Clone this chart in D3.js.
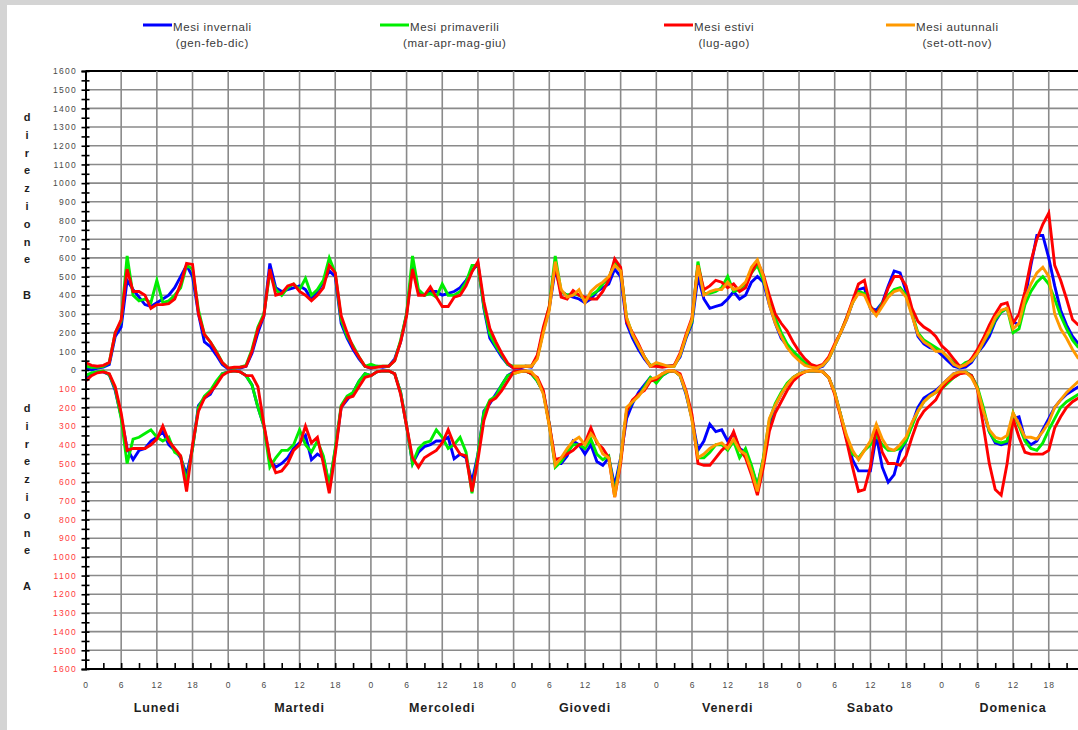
<!DOCTYPE html>
<html>
<head>
<meta charset="utf-8">
<script src="https://cdn.jsdelivr.net/npm/d3@7"></script>
<style>
body{margin:0;background:#d4d4d4;}
svg{display:block;font-family:"Liberation Sans",Arial,sans-serif;}
</style>
</head>
<body>
<svg id="chart" width="1078" height="730"></svg>
<script>
// giorni della settimana (asse x)
var days = ["Lunedi","Martedi","Mercoledi","Giovedi","Venerdi","Sabato","Domenica"]
var hourTicks = [0,6,12,18]

var seriesNames = ["Mesi invernali","Mesi primaverili","Mesi estivi","Mesi autunnali"]
var seriesMonths = ["(gen-feb-dic)","(mar-apr-mag-giu)","(lug-ago)","(set-ott-nov)"]

// direzione B, un valore per ora (Lun 0 -> Dom 23)
var winterB = [
 10,0,10,15,30,180,230,480,430,390,350,340,360,380,400,440,500,560,500,300,150,125,80,30,
 5,10,10,20,90,200,290,570,440,420,430,440,450,430,380,420,470,530,500,250,170,110,60,20,
 10,20,15,20,60,150,300,560,420,400,420,420,400,410,420,440,480,530,570,330,170,120,70,30,
 10,10,20,15,70,210,330,540,420,400,390,380,360,380,420,440,460,540,500,250,170,110,60,20,
 30,20,20,25,70,170,250,500,380,330,340,350,380,420,380,400,470,500,470,350,250,170,130,100,
 60,30,20,10,20,60,130,200,270,360,430,440,330,320,360,450,530,520,420,300,180,140,120,110,
 80,50,20,10,15,40,90,130,180,260,310,330,260,240,380,560,720,720,600,450,320,240,180,140]
var springB = [
 20,15,15,20,40,200,260,610,400,370,380,360,480,360,370,400,440,560,540,320,190,150,100,40,
 10,10,15,25,110,230,300,520,430,400,440,460,430,490,400,430,480,600,520,270,180,130,70,20,
 30,20,20,20,50,160,300,610,430,400,410,390,460,400,400,420,470,560,560,340,190,130,80,30,
 20,20,20,20,70,210,340,610,420,400,410,400,380,400,420,460,490,580,540,280,190,130,70,25,
 30,20,20,20,80,180,260,580,410,410,420,440,500,420,430,460,520,560,480,380,280,200,140,100,
 70,40,25,15,25,60,130,200,280,360,420,410,340,300,360,400,430,440,400,300,200,160,140,120,
 100,70,40,15,40,50,90,150,200,270,310,330,200,220,350,420,470,500,460,380,290,220,160,120]
var summerB = [
 40,25,20,25,40,200,270,540,420,420,400,330,350,350,355,380,460,570,565,300,190,150,95,40,
 10,15,15,20,100,220,290,540,400,410,450,460,420,400,370,400,440,560,520,290,200,120,70,20,
 10,15,20,20,50,150,290,540,400,400,445,390,340,340,390,400,450,525,580,365,223,152,90,37,
 10,15,20,20,80,230,340,560,390,380,425,400,390,380,380,420,480,595,550,258,200,140,70,20,
 20,15,20,25,90,190,280,560,430,450,480,470,440,460,420,440,520,580,510,400,300,250,210,150,
 100,60,30,20,30,70,140,200,280,370,460,480,340,300,350,440,500,500,450,330,260,230,210,180,
 130,100,60,20,25,60,110,170,240,300,350,360,250,300,420,580,700,780,840,560,480,380,270,240]
var autumnB = [
 null,null,null,null,null,null,null,null,null,null,null,null,null,null,null,null,null,null,null,null,null,null,null,null,
 null,null,null,null,null,null,null,null,null,null,null,null,null,null,null,null,null,null,null,null,null,null,null,null,
 null,null,null,null,null,null,null,null,null,null,null,null,null,null,null,null,null,null,null,null,null,null,null,null,
 20,20,20,20,60,200,320,580,430,390,400,430,360,420,450,470,500,560,530,280,190,130,70,20,
 40,30,20,20,80,180,270,560,400,420,430,430,470,430,440,470,550,590,500,350,250,180,120,80,
 50,25,15,10,25,60,130,200,270,360,410,400,330,290,340,390,420,430,390,290,190,150,130,100,
 100,70,30,15,30,50,90,150,210,280,320,330,220,250,380,460,520,550,500,300,220,170,110,60]

// direzione A (valori disegnati sotto lo zero)
var winterA = [
 40,20,10,10,25,110,250,420,480,430,420,380,360,330,400,430,470,560,420,190,150,130,70,20,
 10,5,10,30,80,200,300,480,520,500,470,420,390,350,480,450,470,620,430,200,160,120,60,20,
 30,10,5,5,20,120,300,500,440,410,400,380,380,360,475,450,470,600,450,220,180,130,80,30,
 10,5,5,20,60,120,290,500,500,460,380,400,450,400,490,510,470,620,470,260,180,120,80,40,
 60,30,10,5,30,130,260,430,380,290,330,320,380,340,420,440,520,620,480,290,190,130,80,40,
 20,10,5,5,10,40,120,240,370,480,540,540,540,350,520,600,560,440,380,290,200,150,130,110,
 80,50,20,10,10,30,100,220,330,390,400,390,260,250,370,400,380,320,260,200,160,130,110,90]
var springA = [
 30,15,10,5,25,100,260,500,370,360,340,320,360,380,360,440,460,600,420,200,140,110,60,20,
 10,5,10,30,80,200,300,520,470,430,430,400,320,400,440,380,460,620,420,190,140,120,60,20,
 30,10,5,5,20,120,300,500,420,390,380,320,360,420,400,360,440,660,450,230,160,140,80,30,
 20,10,5,20,60,120,290,520,490,440,400,400,420,370,450,480,460,660,480,220,170,140,90,40,
 70,30,10,5,30,120,260,470,470,440,400,400,430,380,470,420,510,620,470,270,180,120,70,40,
 20,10,5,5,10,40,120,240,360,450,470,430,400,350,400,430,430,420,380,300,220,170,140,120,
 100,70,40,20,10,30,90,200,330,380,390,380,230,300,380,420,430,390,320,260,200,170,150,130]
var summerA = [
 60,30,15,10,20,90,230,430,420,420,420,400,370,300,380,420,460,650,400,220,150,120,80,30,
 10,5,10,30,30,90,290,470,550,540,500,430,400,300,390,360,500,660,450,200,150,140,90,40,
 30,10,5,5,20,130,300,470,520,470,450,430,390,320,400,450,460,650,480,270,170,150,110,60,
 10,5,5,20,40,110,290,480,470,450,430,400,390,310,390,420,470,680,500,220,160,130,110,60,
 50,20,5,5,20,110,240,500,510,510,470,430,400,330,420,470,560,670,520,330,230,170,110,60,
 30,10,3,5,10,40,130,250,380,520,650,640,520,300,440,500,500,510,460,360,270,220,190,160,
 100,60,40,20,15,30,100,300,500,640,670,500,260,360,440,450,450,450,430,310,250,200,170,150]
var autumnA = [
 null,null,null,null,null,null,null,null,null,null,null,null,null,null,null,null,null,null,null,null,null,null,null,null,
 null,null,null,null,null,null,null,null,null,null,null,null,null,null,null,null,null,null,null,null,null,null,null,null,
 null,null,null,null,null,null,null,null,null,null,null,null,null,null,null,null,null,null,null,null,null,null,null,null,
 20,10,5,10,50,130,300,510,470,420,380,360,400,340,380,450,470,680,480,200,170,140,100,50,
 40,20,5,5,30,120,270,470,450,420,400,390,420,370,430,450,540,650,480,260,190,130,80,40,
 20,10,3,5,10,40,120,240,350,430,480,430,380,290,370,420,430,400,360,280,220,170,140,120,
 80,50,20,10,10,40,100,220,320,360,370,350,230,290,360,360,370,330,280,200,160,120,90,60]

var colors = ["#0000ff","#00ee00","#ff0000","#ff9900"]

var margins = {left:85.5, top:71, bottom:669}
var hourWidth = 5.946

var svg = d3.select("#chart")

// sfondo
svg.append("rect").attr("width",1078).attr("height",730).attr("fill","#d4d4d4")
svg.append("rect").attr("x",7).attr("y",5).attr("width",1071).attr("height",725).attr("fill","#ffffff")

var xScale = d3.scaleLinear()
    .domain([0,168])
    .range([margins.left, margins.left+168*hourWidth])
var yScale = d3.scaleLinear()
    .domain([-1600,1600])
    .range([margins.bottom, margins.top])

// griglia
var grid = svg.append("g").attr("class","grid")
grid.selectAll("line.h")
    .data(d3.range(-1600,1601,100))
    .enter().append("line")
    .attr("x1",margins.left).attr("x2",1078)
    .attr("y1",function(d){return yScale(d)})
    .attr("y2",function(d){return yScale(d)})
    .attr("stroke",function(d){return d==1600 ? "#000" : "#8a8a8a"})
    .attr("stroke-width",function(d){return d==1600 ? 2 : 1.6})
grid.selectAll("line.v")
    .data(d3.range(6,169,6))
    .enter().append("line")
    .attr("y1",margins.top).attr("y2",margins.bottom)
    .attr("x1",function(d){return xScale(d)})
    .attr("x2",function(d){return xScale(d)})
    .attr("stroke","#8a8a8a")
    .attr("stroke-width",1.6)

// curve
var lineB = d3.line()
    .defined(function(d){return d!=null})
    .x(function(d,i){return xScale(i)})
    .y(function(d){return yScale(d)})
var lineA = d3.line()
    .defined(function(d){return d!=null})
    .x(function(d,i){return xScale(i)})
    .y(function(d){return yScale(-d)})

var curves = svg.append("g").attr("class","curves")
var seriesB = [winterB,springB,summerB,autumnB]
var seriesA = [winterA,springA,summerA,autumnA]
seriesB.forEach(function(s,k){
    curves.append("path").datum(seriesA[k])
        .attr("d",lineA).attr("fill","none")
        .attr("stroke",colors[k]).attr("stroke-width",2.9)
        .attr("stroke-linejoin","miter")
    curves.append("path").datum(s)
        .attr("d",lineB).attr("fill","none")
        .attr("stroke",colors[k]).attr("stroke-width",2.9)
        .attr("stroke-linejoin","miter")
})

// asse y
var yAxis = d3.axisLeft(yScale)
    .tickValues(d3.range(-1600,1601,50))
    .tickSize(4)
    .tickPadding(4.5)
    .tickFormat(function(d){return d%100==0 ? Math.abs(d) : ""})
var yG = svg.append("g")
    .attr("transform","translate("+margins.left+",0)")
    .call(yAxis)
yG.select(".domain").attr("stroke","#000").attr("stroke-width",2)
yG.selectAll(".tick line").attr("x1",-4).attr("x2",4).attr("stroke","#000").attr("stroke-width",1.6)
yG.selectAll(".tick text")
    .attr("font-size",8.5).attr("letter-spacing",1.3)
    .attr("font-family","Liberation Sans, Arial, sans-serif")
    .attr("fill",function(d){return d<0 ? "#ff3b3b" : "#4a4a4a"})

// asse x
var xAxis = d3.axisBottom(xScale)
    .tickValues(d3.range(0,168,3))
    .tickSize(0)
    .tickPadding(13)
    .tickFormat(function(d){return d%6==0 ? (d%24) : ""})
var xG = svg.append("g")
    .attr("transform","translate(0,"+margins.bottom+")")
    .call(xAxis)
xG.select(".domain").attr("stroke","#000").attr("stroke-width",2).attr("d","M"+margins.left+",0H1078")
xG.selectAll(".tick line").attr("y1",-6).attr("y2",1).attr("stroke","#000").attr("stroke-width",1.6)
xG.selectAll(".tick text")
    .attr("font-size",8.5).attr("letter-spacing",1)
    .attr("font-family","Liberation Sans, Arial, sans-serif")
    .attr("fill","#4a4a4a")

// nomi dei giorni
svg.append("g").selectAll("text")
    .data(days)
    .enter().append("text")
    .text(function(d){return d})
    .attr("x",function(d,i){return xScale(i*24+12)})
    .attr("y",712)
    .attr("text-anchor","middle")
    .attr("font-weight","bold")
    .attr("font-size",12.5)
    .attr("letter-spacing",0.9)
    .attr("fill","#1e1e1e")

// etichette laterali verticali
var drawSide = function(letters, top){
    svg.append("g").selectAll("text")
        .data(letters)
        .enter().append("text")
        .text(function(d){return d})
        .attr("x",27)
        .attr("y",function(d,i){return top+i*17.8+4})
        .attr("text-anchor","middle")
        .attr("font-weight","bold")
        .attr("font-size",11)
        .attr("fill","#1e1e1e")
}
drawSide(["d","i","r","e","z","i","o","n","e","","B"],117)
drawSide(["d","i","r","e","z","i","o","n","e","","A"],408)

// legenda
var legendX = [143,380,664,886]
var legend = svg.append("g").attr("class","legend")
var entries = legend.selectAll("g")
    .data(seriesNames)
    .enter().append("g")
    .attr("transform",function(d,i){return "translate("+legendX[i]+",0)"})
entries.append("line")
    .attr("x1",0).attr("x2",29).attr("y1",25).attr("y2",25)
    .attr("stroke",function(d,i){return colors[i]})
    .attr("stroke-width",3)
entries.append("text")
    .attr("class","name")
    .text(function(d){return d})
    .attr("x",30).attr("y",31)
    .attr("font-size",11.5).attr("letter-spacing",0.6)
    .attr("fill","#3a3a3a")
entries.each(function(d,i){
    var g = d3.select(this)
    var w = g.select("text.name").node().getComputedTextLength()
    g.append("text")
        .text(seriesMonths[i])
        .attr("x",30+w/2).attr("y",47)
        .attr("text-anchor","middle")
        .attr("font-size",11.5).attr("letter-spacing",0.6)
        .attr("fill","#3a3a3a")
})
</script>
</body>
</html>
